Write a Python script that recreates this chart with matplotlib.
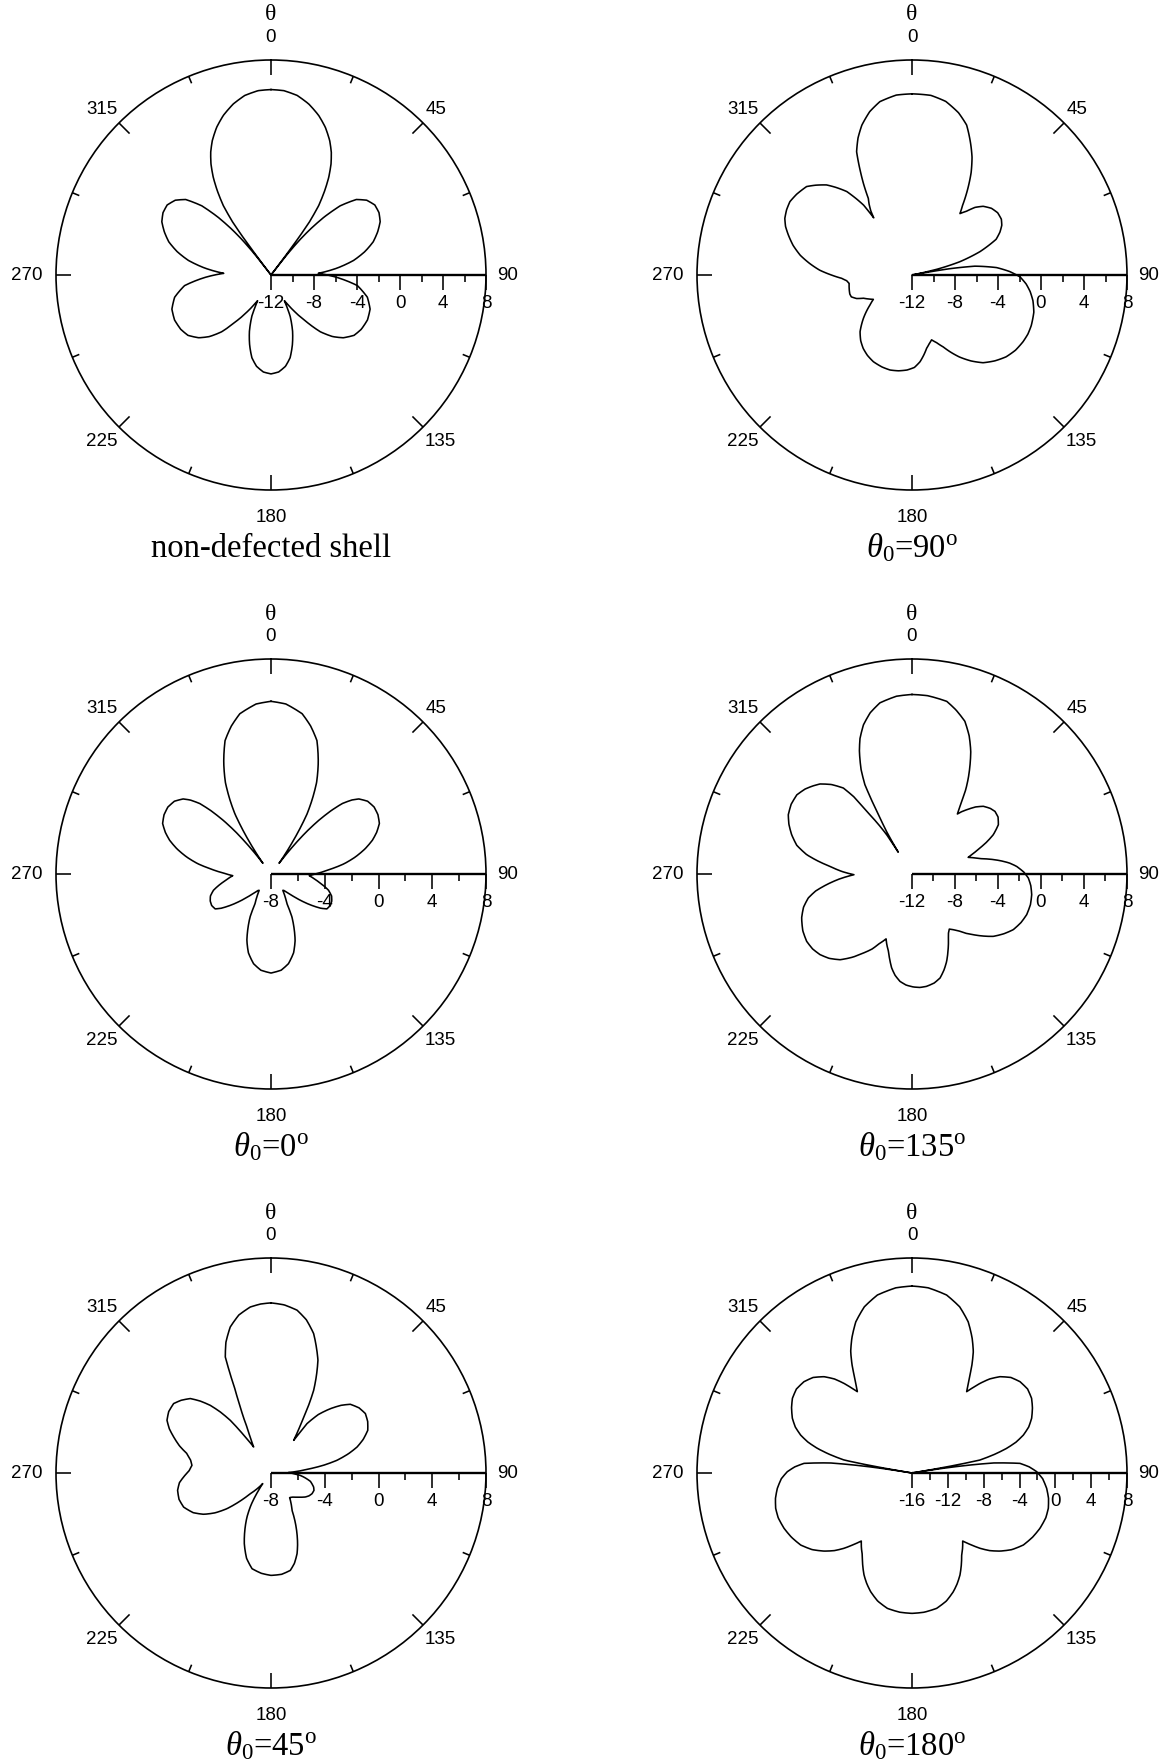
import numpy as np
import matplotlib
matplotlib.use('Agg')
import matplotlib.pyplot as plt

plt.rcParams['font.family'] = ['Liberation Sans', 'DejaVu Sans']
plt.rcParams['mathtext.fontset'] = 'custom'
plt.rcParams['mathtext.rm'] = 'Liberation Serif'
plt.rcParams['mathtext.it'] = 'Liberation Serif:italic'
plt.rcParams['mathtext.bf'] = 'Liberation Serif:bold'

# ---------------- data (angle in degrees, level in dB) ----------------
titles = ['non-defected shell', r'$\theta_0$=90$^\mathrm{o}$',
          r'$\theta_0$=0$^\mathrm{o}$', r'$\theta_0$=135$^\mathrm{o}$',
          r'$\theta_0$=45$^\mathrm{o}$', r'$\theta_0$=180$^\mathrm{o}$']
r_min = [-12, -12, -8, -12, -8, -16]
r_max = 8
angle_ticks = [0, 45, 90, 135, 180, 225, 270, 315]

theta_nd = [0, 4, 8.3, 12.4, 16.6, 20.2, 23.6, 26.2, 28.4, 30.6, 32.5, 34.5, 35.9, 36.5, 36.9, 37.5, 38.2, 39.3, 40.5, 42.5, 45,
            48.5, 52, 56, 60, 64, 68, 72, 76, 80, 84, 88, 92, 97, 103, 109, 115, 121, 126, 131, 135,
            139, 143, 147, 150.5, 152.5, 155, 159, 163, 167, 171, 175.5, 180,
            184.5, 189, 193, 197, 201, 205, 207.5, 209.5, 213, 217, 221, 225, 229, 234, 239, 245, 251, 257,
            263, 268, 272, 276, 280, 284, 288, 292, 296, 300, 304, 308, 311.5, 315, 317.5, 319.5, 320.7,
            321.8, 322.5, 323.1, 323.5, 324.1, 325.5, 327.5, 329.4, 331.6, 333.8, 336.4, 339.8, 343.4, 347.6, 351.7, 356, 360]
gain_nd = [5.25, 5.19, 4.88, 4.3, 3.5, 2.64, 1.64, 0.71, -0.26, -1.45, -2.7, -4.17, -5.9, -7.5, -9.5, -13, -9.5, -7.8, -6.5, -4.7, -2.9,
           -1.4, -0.7, -0.35, -0.4, -0.7, -1.3, -2.0, -3.0, -4.2, -5.8, -7.6, -5.9, -3.9, -2.8, -2.25, -2.1, -2.2, -2.45, -3.1, -3.9,
           -5.0, -6.6, -7.9, -8.9, -9.3, -7.8, -6.4, -5.2, -4.1, -3.4, -2.95, -2.8,
           -2.95, -3.4, -4.1, -5.2, -6.4, -7.8, -9.3, -8.9, -7.9, -6.6, -5.0, -3.9, -3.1, -2.45, -2.2, -2.1, -2.25, -2.8,
           -3.9, -5.9, -7.6, -5.8, -4.2, -3.0, -2.0, -1.3, -0.7, -0.4, -0.35, -0.7, -1.4, -2.9, -4.7, -6.5, -7.8,
           -9.5, -13, -9.5, -7.5, -5.9, -4.17, -2.7, -1.45, -0.26, 0.71, 1.64, 2.64, 3.5, 4.3, 4.88, 5.19, 5.25]

theta_90 = [0, 6, 11, 16, 20, 24, 27, 30, 33, 36, 38, 40.5, 43, 46, 50, 54, 58, 61, 64, 67, 71, 74.5, 77, 78.5, 79.5,
            80.5, 82, 85, 88, 91, 94.5, 98, 102, 107, 113, 117, 121, 126, 131, 136, 141, 145.5, 150, 153.5, 156.5,
            160, 163.2, 166, 168.7, 171.5, 174.7, 178.5, 183, 188, 193, 198, 204, 209, 213.6, 218, 222.5, 228.3,
            234.5, 237.8, 241, 244.4, 247, 250.2, 253, 256.5, 259.5, 262.4, 265, 267.3, 270, 273, 276.5, 280, 284,
            288, 291, 294, 297.5, 301, 305, 310, 313, 316.5, 319, 322, 324, 325.3, 326.2, 327.3, 328.8, 330.3, 332,
            333.5, 335.8, 338.5, 341.5, 345.5, 349.5, 355, 360]
gain_90 = [4.85, 4.8, 4.45, 3.7, 2.85, 1.4, 0.3, -1.0, -2.5, -4.0, -4.75, -4.2, -3.4, -2.8, -2.35, -2.15, -2.2, -2.45, -2.9, -3.5, -5.3, -7.4, -9.6, -13, -13,
           -8.5, -6.1, -4.1, -2.9, -1.95, -1.35, -0.9, -0.5, -0.15, 0.05, 0.1, 0.05, -0.1, -0.4, -0.9, -1.5, -2.3, -3.2, -4.0, -4.7,
           -5.3, -5.7, -5.4, -5.05, -4.5, -3.9, -3.4, -3.15, -3.0, -2.93, -3.0, -3.17, -3.45, -3.8, -4.25, -4.85, -5.95,
           -7.2, -7.75, -7.4, -7.0, -6.4, -6.0, -5.95, -6.0, -6.05, -6.1, -5.9, -5.45, -4.5, -3.4, -2.4, -1.45, -0.6,
           0.1, 0.6, 0.95, 1.15, 1.25, 1.1, 0.8, 0.25, -0.45, -1.2, -2.15, -3.3, -4.1, -5.6, -4.9, -4.3, -3.8, -2.4,
           -1.25, 0.57, 1.7, 2.7, 3.7, 4.4, 4.8, 4.85]

theta_0 = [0, 5, 11, 15, 19, 23, 26.5, 29, 31, 32.5, 34, 35.3, 36.3, 37, 37.8, 38.7, 40, 41.6, 43.5, 45.3,
           47.5, 49.5, 53, 57, 61, 65, 68.5, 71.6, 75, 78.6, 82, 85, 89, 92.5, 96, 99.5, 105.8, 110, 114, 118,
           122, 124.5, 127.5, 130.5, 134, 138, 142, 144, 146, 149, 151.7, 154, 157, 160, 164, 169, 174, 180,
           186, 191, 196, 200, 203, 206, 208.3, 211, 214, 216, 218, 222, 226, 229.5, 232.5, 235.5, 238, 242,
           246, 250, 254.2, 260.5, 264, 267.5, 271, 275, 278, 281.4, 285, 288.4, 291.5, 295, 299, 303, 307,
           310.5, 312.5, 314.7, 316.5, 318.4, 320, 321.3, 322.2, 323, 323.7, 324.7, 326, 327.5, 329, 331, 333.5,
           337, 341, 345, 349, 355, 360]
gain_0 = [4.85, 4.7, 4.15, 3.4, 2.5, 1.0, -0.4, -1.7, -2.8, -4.0, -5.2, -6.1, -6.7, -7.0, -6.0, -5.1, -3.9, -2.7, -1.5, -0.55,
          0.15, 0.6, 1.0, 1.15, 1.1, 0.9, 0.45, -0.05, -0.75, -1.6, -2.5, -3.45, -4.5, -5.15, -4.8, -4.4, -3.55, -3.2, -3.05, -3.0,
          -3.1, -3.5, -4.15, -4.8, -5.5, -6.1, -6.45, -6.5, -6.3, -5.9, -5.5, -4.45, -3.6, -2.75, -1.9, -1.2, -0.8, -0.63,
          -0.8, -1.2, -1.9, -2.75, -3.6, -4.45, -5.5, -5.9, -6.3, -6.5, -6.45, -6.1, -5.5, -4.8, -4.15, -3.5, -3.1, -3.0,
          -3.05, -3.2, -3.55, -4.4, -4.8, -5.15, -4.5, -3.45, -2.5, -1.6, -0.75, -0.05, 0.45, 0.9, 1.1, 1.15, 1.0,
          0.6, 0.15, -0.55, -1.5, -2.7, -3.9, -5.1, -6.0, -7.0, -6.7, -6.1, -5.2, -4.0, -2.8, -1.7, -0.4,
          1.0, 2.5, 3.4, 4.15, 4.7, 4.85]

theta_135 = [0, 5, 11.4, 15, 19.1, 22.5, 25.6, 28, 30.4, 32.5, 34.3, 35.8, 37.1, 38.5, 40.4, 43.5, 46.5, 50, 53, 56.5,
             60.3, 64.2, 67, 69.1, 71.5, 73.5, 75.5, 77.3, 79.5, 81.4, 83.5, 85.8, 89, 92, 95.5, 99.8, 104.5, 109.5,
             114, 118.8, 123, 127.5, 131, 134.7, 137.5, 140, 143, 145.8, 148, 150.4, 154.5, 158.4, 161.5, 164.9,
             168.5, 172.6, 176, 179.3, 183, 186.4, 189.5, 192.2, 194.5, 197, 199.5, 201.8, 203.3, 204.9, 208, 211.6,
             215.5, 220, 224.5, 228.8, 233, 237.4, 242.5, 248.3, 253, 257, 260, 262.9, 266, 269.3, 272, 275.3, 278,
             280.4, 284, 288.1, 292, 295.6, 300, 304.5, 308.5, 311.5, 314.4, 318, 321.4, 323, 324.1, 325.8, 327.2,
             327.8, 329, 330.3, 331.3, 332.2, 334, 336.8, 339, 342, 345.5, 349.4, 355, 360]
gain_135 = [4.7, 4.65, 4.38, 3.8, 3.03, 1.9, 0.65, -0.5, -1.65, -2.7, -3.8, -4.5, -5.0, -4.6, -4.15, -3.4, -2.85, -2.5, -2.33, -2.4,
            -2.75, -3.6, -4.5, -5.25, -6.0, -6.55, -6.0, -5.5, -4.5, -3.7, -2.9, -2.25, -1.6, -1.17, -0.9, -0.7, -0.62, -0.68,
            -0.9, -1.25, -1.8, -2.47, -3.2, -3.97, -4.5, -5.05, -5.5, -5.82, -5.6, -5.15, -4.2, -3.25, -2.6, -1.98,
            -1.65, -1.46, -1.42, -1.49, -1.65, -1.95, -2.45, -3.05, -3.75, -4.5, -5.0, -5.5, -5.2, -4.92, -4.1, -3.37,
            -2.5, -1.59, -1.0, -0.62, -0.42, -0.37, -0.55, -0.95, -1.45, -2.1, -2.9, -4.0, -5.2, -6.6, -5.5, -4.34, -3.1,
            -2.04, -0.95, -0.22, 0.35, 0.76, 0.98, 1.0, 0.7, 0.35, -0.03, -0.8, -1.77, -3.0, -4.8, -6.3, -7.65,
            -9.6, -7.5, -6.0, -4.2, -2.6, -1.2, 0.42, 1.5, 2.6, 3.5, 4.2, 4.6, 4.7]

theta_45 = [0, 4.5, 9.1, 13, 17, 20, 22.6, 25, 27.3, 29, 30.3, 32, 33.5, 34.8, 35.5, 36.1, 39, 42.7, 46, 49.1,
            53.5, 57.8, 62, 66.2, 70, 73.2, 76, 79.1, 81.5, 83.7, 86, 88.5, 91, 94, 97, 102, 108.2, 112, 116.8,
            121, 124.9, 130, 136.6, 140, 142.9, 146.5, 150.6, 153.5, 156.8, 159.5, 162.1, 165.5, 168.8, 174, 180,
            185.5, 191.2, 196, 200.7, 204.5, 208.6, 212, 215, 218, 221, 225, 228, 231, 234.5, 238.5, 243, 248.7,
            254, 259.5, 264, 267.4, 271.5, 275.5, 279, 283, 286.5, 290.3, 293.5, 296.9, 301, 305.5, 309, 312.7,
            315.5, 318.1, 320.3, 322.3, 324.5, 326.3, 328, 330, 332.4, 334.5, 336.7, 337.6, 338.5, 341, 344.4,
            348.5, 352.9, 356.5, 360]
gain_45 = [4.66, 4.55, 4.27, 3.7, 2.85, 1.9, 1.09, 0.0, -1.08, -2.2, -3.17, -4.0, -4.6, -5.04, -4.3, -3.45, -2.4, -1.49, -0.75, -0.19,
           0.15, 0.3, 0.15, -0.13, -0.7, -1.31, -2.05, -3.0, -4.0, -5.05, -5.9, -6.7, -6.4, -5.9, -5.55, -5.0, -4.66, -4.55, -4.58,
           -4.7, -4.88, -5.2, -5.54, -5.65, -5.7, -5.3, -4.81, -4.0, -3.09, -2.35, -1.69, -1.05, -0.61, -0.42, -0.38,
           -0.5, -0.74, -1.4, -2.38, -3.3, -4.27, -5.2, -6.2, -7.0, -6.5, -5.82, -4.8, -3.78, -2.9, -2.12, -1.5, -1.02,
           -0.88, -0.93, -1.15, -1.49, -1.9, -2.09, -1.95, -1.58, -0.9, -0.28, 0.25, 0.68, 0.88, 0.9, 0.6, 0.17,
           -0.5, -1.24, -2.1, -3.05, -4.71, -5.67, -5.35, -4.9, -4.14, -2.9, -1.3, 0.0, 1.28, 2.3, 3.28,
           4.0, 4.45, 4.6, 4.66]

theta_180 = [0, 5, 11, 16, 20.4, 24, 26.8, 29, 30.6, 32.3, 33.9, 35.5, 37.2, 39.5, 42.4, 46, 49.8, 54, 58, 61.5,
             65.4, 68.5, 71.2, 73.5, 75.4, 77.2, 79.2, 79.8, 80.6, 81.5, 82.3, 83, 84.9, 87, 89.4, 92.5, 96.5, 100.5,
             104.5, 108.5, 113.4, 118, 122.9, 127.5, 131.6, 135, 137.9, 140.5, 143.3, 146, 148.8, 151.8, 154.8,
             157.8, 160.8, 165, 169.7, 175, 180,
             185, 190.3, 195, 199.2, 202.2, 205.2, 208.2, 211.2, 214, 216.7, 219.5, 222.1, 225, 228.4, 232.5, 237.1,
             242, 246.6, 251.5, 255.5, 259.5, 263.5, 267.5, 270.6, 273, 275.1, 277, 277.7, 278.5, 279.4, 280.2, 280.8,
             282.8, 284.6, 286.5, 288.8, 291.5, 294.6, 298.5, 302, 306, 310.2, 314, 317.6, 320.5, 322.8, 324.5,
             326.1, 327.7, 329.4, 331, 333.2, 336, 339.6, 344, 349, 355, 360]
gain_180 = [4.87, 4.75, 4.24, 3.3, 2.0, 0.5, -0.82, -2.2, -3.3, -4.3, -5.06, -4.3, -3.44, -2.4, -1.44, -0.65, -0.21, -0.05, -0.26, -0.7,
            -1.31, -2.0, -2.87, -3.9, -5.08, -6.5, -8.3, -11, -18, -12, -9, -6.8, -3.9, -2.9, -2.08, -1.4, -0.87, -0.5,
            -0.28, -0.25, -0.44, -0.75, -1.2, -1.95, -2.87, -3.75, -4.67, -5.6, -6.53, -5.9, -5.3, -4.35, -3.42,
            -2.65, -1.97, -1.2, -0.64, -0.4, -0.33,
            -0.4, -0.64, -1.2, -1.97, -2.65, -3.42, -4.35, -5.3, -5.9, -6.53, -5.6, -4.67, -3.75, -2.87, -1.95, -1.2,
            -0.75, -0.44, -0.25, -0.28, -0.5, -0.87, -1.4, -2.08, -2.9, -3.9, -6.8, -9, -12, -18, -11, -8.3,
            -6.5, -5.08, -3.9, -2.87, -2.0, -1.31, -0.7, -0.26, -0.05, -0.21, -0.65, -1.44, -2.4, -3.44, -4.3,
            -5.06, -4.3, -3.3, -2.2, -0.82, 0.5, 2.0, 3.3, 4.24, 4.75, 4.87]

thetas = [theta_nd, theta_90, theta_0, theta_135, theta_45, theta_180]
gains = [gain_nd, gain_90, gain_0, gain_135, gain_45, gain_180]

# ---------------- layout ----------------
W, H = 1171, 1760
R = 215  # circle radius in pixels
centers = [(271, 275), (912, 275), (271, 874), (912, 874), (271, 1473), (912, 1473)]
label_off = {0: (0, 238), 45: (165, 166), 90: (237, 0), 135: (169, -166),
             180: (0, -242), 225: (-169, -166), 270: (-244, 0), 315: (-169, 166)}
TICK_FS = 13.5

fig = plt.figure(figsize=(W / 100, H / 100), dpi=100)

for i in range(6):
    cx, cy = centers[i]
    rmin = r_min[i]
    th = np.asarray(thetas[i], float)
    g = np.asarray(gains[i], float)
    assert len(th) == len(g), (i, len(th), len(g))
    ax = fig.add_axes([(cx - R) / W, 1 - (cy + R) / H, 2 * R / W, 2 * R / H], projection='polar')
    ax.set_theta_zero_location('N')
    ax.set_theta_direction(-1)

    line, = ax.plot(np.deg2rad(th), np.clip(g, rmin, r_max), color='k', lw=1.15,
                    solid_joinstyle='round')
    # draw each segment following the polar scale (spiral segments rather than chords)
    line.get_path()._interpolation_steps = 24

    span = r_max - rmin
    for a in np.arange(0, 360, 22.5):
        L = (15 if a % 45 == 0 else 7.5) / R * span
        ax.plot([np.deg2rad(a)] * 2, [r_max, r_max - L], color='k', lw=1.15,
                solid_capstyle='butt', clip_on=False)
    ax.plot([np.pi / 2] * 2, [rmin, r_max], color='k', lw=1.7, solid_capstyle='butt', clip_on=False)
    for v in range(rmin, r_max + 1, 2):
        major = (v - rmin) % 4 == 0
        ax.plot([np.pi / 2], [v], marker=3, ms=10.5 if major else 5.2, mew=1.15,
                color='k', clip_on=False)
        if major:
            ax.annotate(str(v), xy=(np.pi / 2, v), xytext=(0, -28), textcoords='offset pixels',
                        ha='center', va='center', fontsize=TICK_FS)

    ax.set_ylim(rmin, r_max)
    ax.set_xticks([])
    ax.set_yticks([])
    ax.grid(False)
    ax.spines['polar'].set_linewidth(1.2)

    for a in angle_ticks:
        dx, dy = label_off[a]
        ax.annotate(str(a), xy=(0.5, 0.5), xycoords='axes fraction', xytext=(dx, dy),
                    textcoords='offset pixels', ha='center', va='center', fontsize=TICK_FS)
    ax.annotate('θ', xy=(0.5, 0.5), xycoords='axes fraction', xytext=(0, 260),
                textcoords='offset pixels', ha='center', va='center', fontsize=17,
                family=['Liberation Serif', 'DejaVu Serif'])
    ax.annotate(titles[i], xy=(0.5, 0.5), xycoords='axes fraction', xytext=(0, -282),
                textcoords='offset pixels', ha='center', va='baseline', fontsize=23.5,
                family=['Liberation Serif', 'DejaVu Serif'])

fig.savefig('out.png', dpi=100)
